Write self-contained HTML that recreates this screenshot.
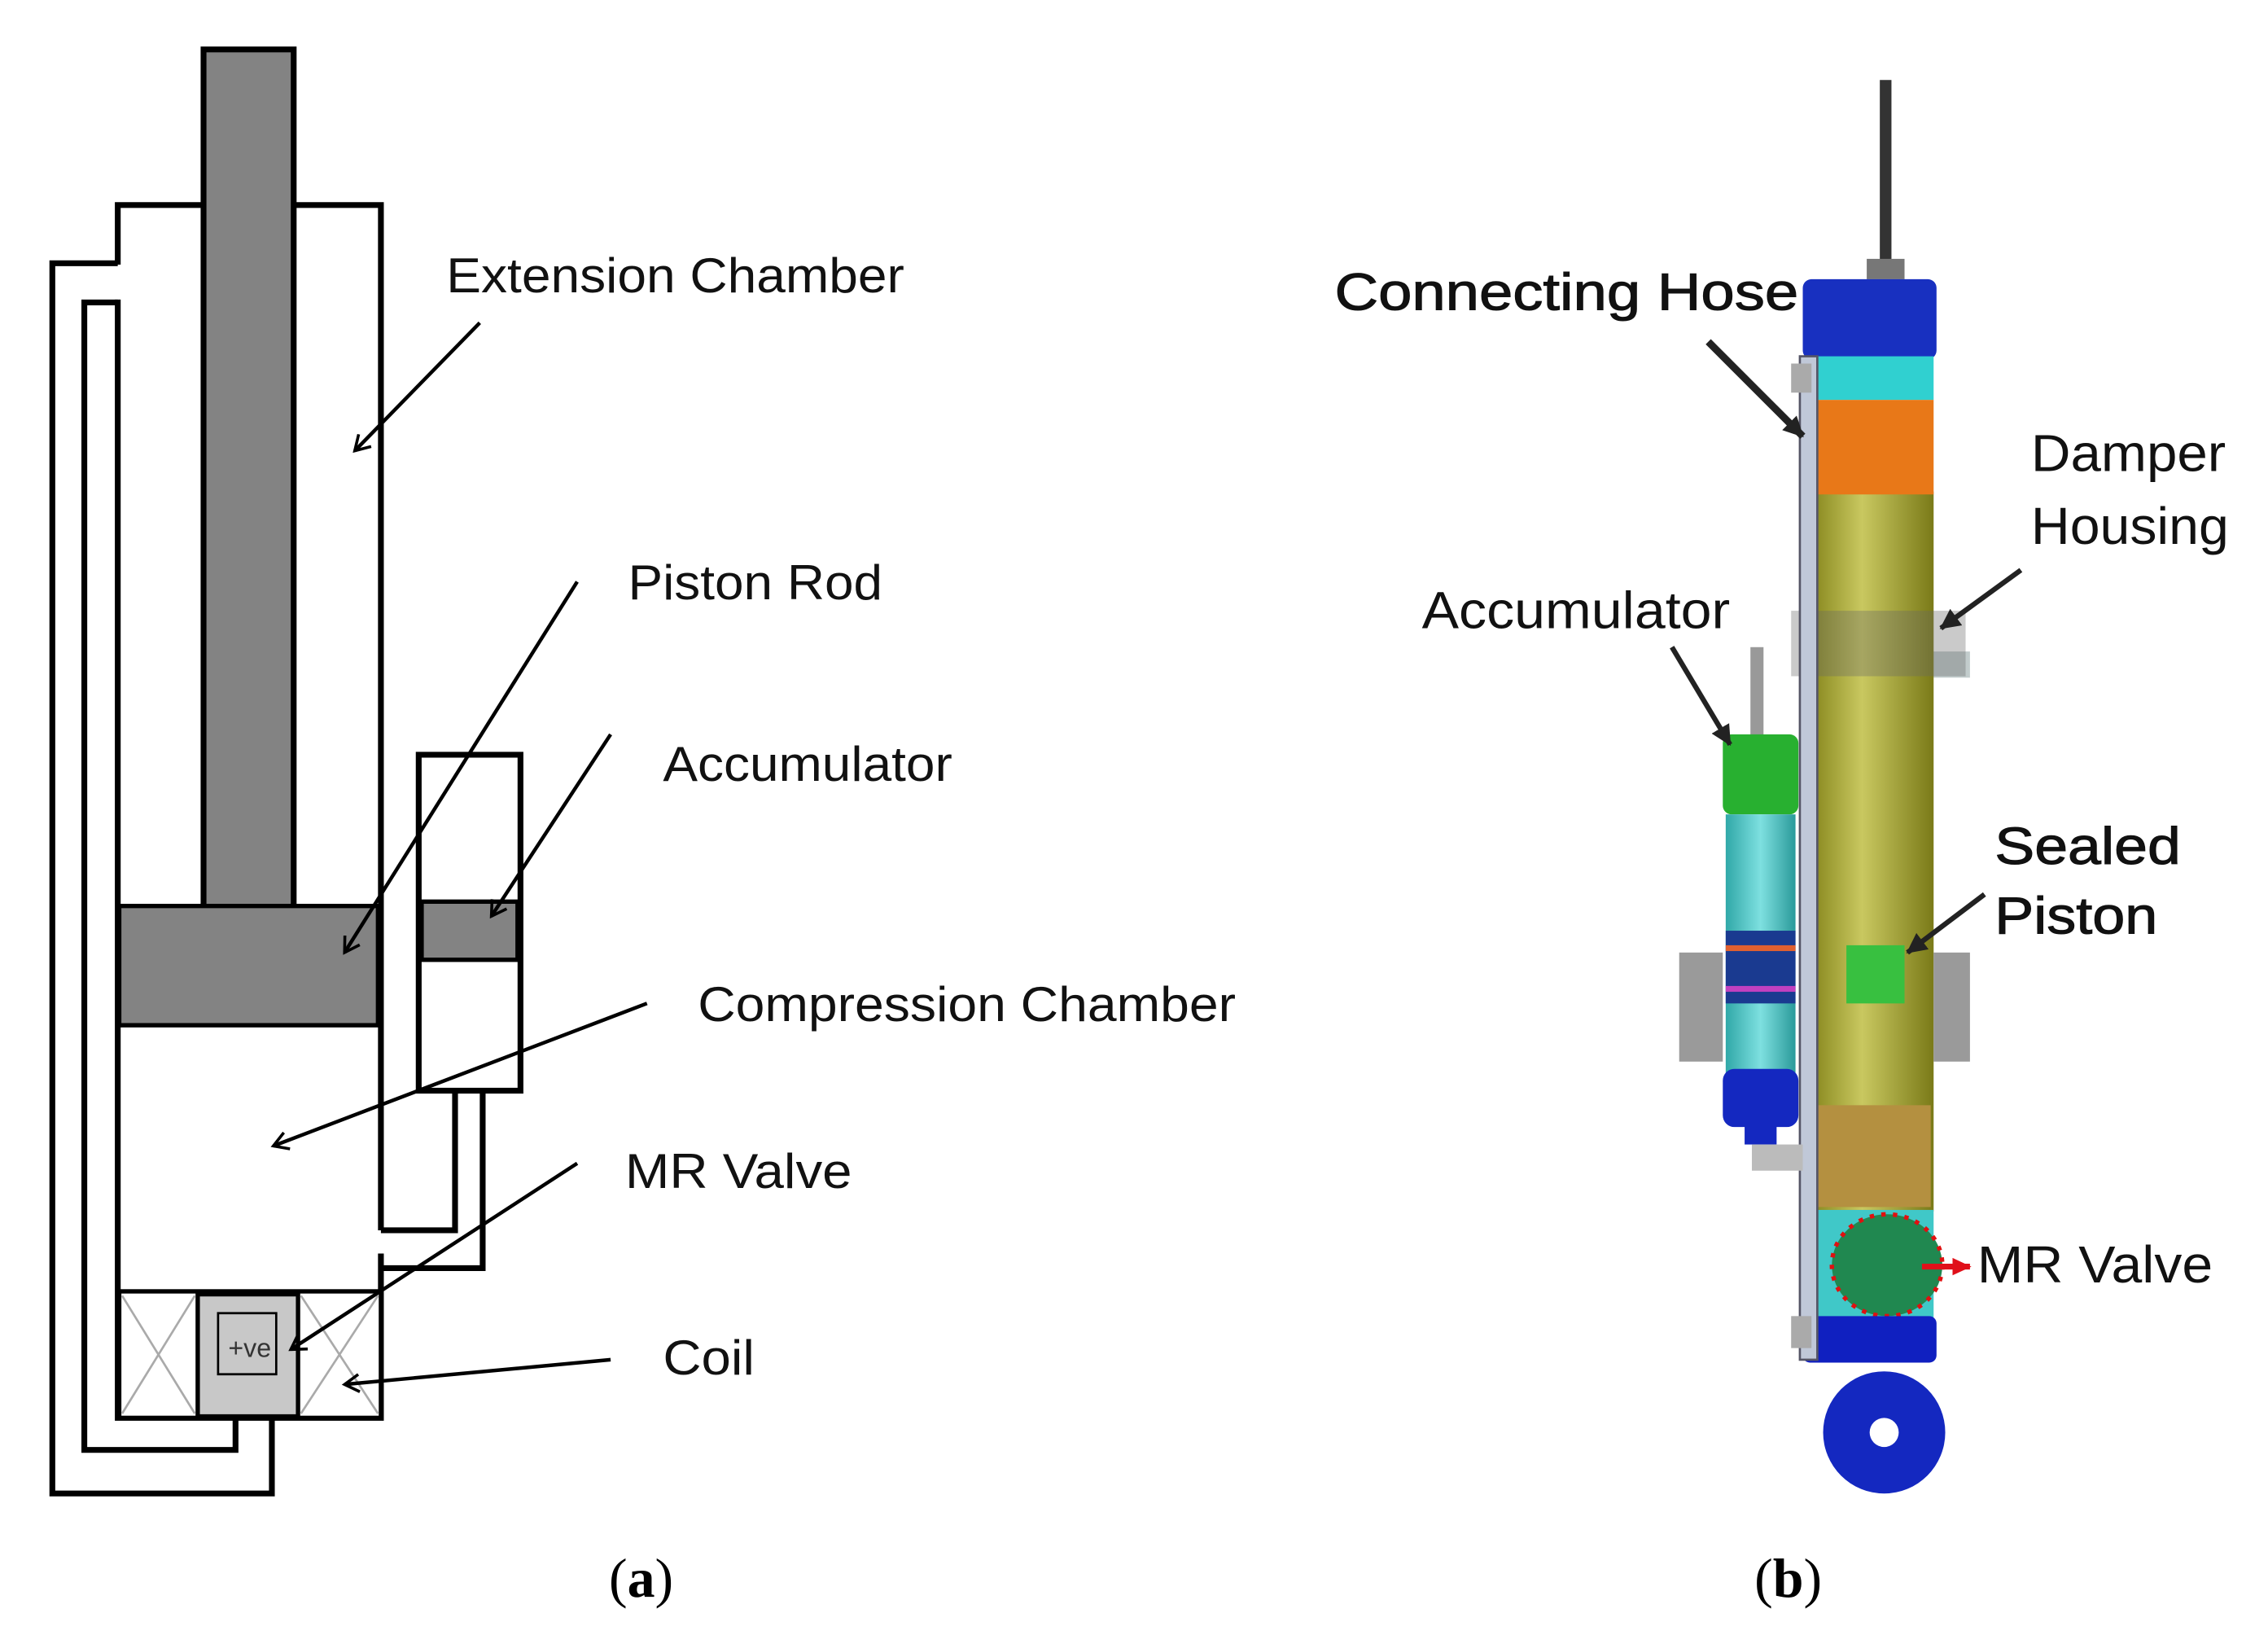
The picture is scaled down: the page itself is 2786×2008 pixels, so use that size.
<!DOCTYPE html>
<html><head><meta charset="utf-8"><style>
html,body{margin:0;padding:0;background:#fff;}
svg{display:block;}
text{font-family:"Liberation Sans",sans-serif;}
</style></head><body>
<svg width="2786" height="2008" viewBox="0 0 1560 1124.3" preserveAspectRatio="none" xmlns="http://www.w3.org/2000/svg">
<defs>
<marker id="ah" markerWidth="14" markerHeight="14" refX="11" refY="7" orient="auto" markerUnits="userSpaceOnUse">
<path d="M1,1 L11,7 L1,13" fill="none" stroke="#000" stroke-width="2"/>
</marker>
<marker id="ahf" markerWidth="16" markerHeight="16" refX="13" refY="8" orient="auto" markerUnits="userSpaceOnUse">
<path d="M0,1 L14,8 L0,15 z" fill="#222"/>
</marker>
<marker id="ahr" markerWidth="14" markerHeight="14" refX="12" refY="7" orient="auto" markerUnits="userSpaceOnUse">
<path d="M0,1 L13,7 L0,13 z" fill="#e0101a"/>
</marker>
<linearGradient id="tube" x1="0" x2="1">
<stop offset="0" stop-color="#8a8a20"/><stop offset="0.4" stop-color="#c9c860"/><stop offset="1" stop-color="#7a7a18"/>
</linearGradient>
<linearGradient id="acc" x1="0" x2="1">
<stop offset="0" stop-color="#30a8a8"/><stop offset="0.5" stop-color="#7ee0e0"/><stop offset="1" stop-color="#2a9a9a"/>
</linearGradient>
</defs>
<g fill="none" stroke="#000" stroke-width="4">
<rect x="140" y="34" width="62" height="590" fill="#838383"/>
<path d="M140,141 H81 V182 M81,206 V975 H262 V862 M262,846 V141 H202"/>
<rect x="82" y="623" width="178" height="82" fill="#838383" stroke-width="3"/>
<rect x="82" y="888" width="180" height="87" fill="#fff" stroke-width="3"/>
<rect x="136" y="890" width="69" height="84" fill="#c8c8c8" stroke-width="3"/>
<path d="M81,181 H36 V1027 H187 V975"/>
<path d="M81,208 H58 V997 H162 V975"/>
<rect x="288" y="519" width="70" height="231" fill="#fff"/>
<rect x="290" y="620" width="66" height="40" fill="#838383" stroke-width="3"/>
<path d="M313,750 V846 H262"/>
<path d="M332,750 V872 H262"/>
</g>
<g stroke="#aaa" stroke-width="1.5">
<line x1="84" y1="891" x2="134" y2="972"/><line x1="134" y1="891" x2="84" y2="972"/>
<line x1="207" y1="891" x2="260" y2="972"/><line x1="260" y1="891" x2="207" y2="972"/>
</g>
<g stroke="#000" stroke-width="1.5" fill="none">
<path d="M150,903 H190 V945 H150 Z"/>
</g>
<text x="157" y="933" font-size="18" fill="#333">+ve</text>
<g font-size="34" fill="#111">
<text x="307" y="201" textLength="315" lengthAdjust="spacingAndGlyphs">Extension Chamber</text>
<text x="432" y="412" textLength="175" lengthAdjust="spacingAndGlyphs">Piston Rod</text>
<text x="456" y="537" textLength="199" lengthAdjust="spacingAndGlyphs">Accumulator</text>
<text x="480" y="702" textLength="370" lengthAdjust="spacingAndGlyphs">Compression Chamber</text>
<text x="430" y="817" textLength="156" lengthAdjust="spacingAndGlyphs">MR Valve</text>
<text x="456" y="945" textLength="63" lengthAdjust="spacingAndGlyphs">Coil</text>
</g>
<g stroke="#000" stroke-width="2.5" marker-end="url(#ah)">
<line x1="330" y1="222" x2="244" y2="310"/>
<line x1="397" y1="400" x2="237" y2="655"/>
<line x1="420" y1="505" x2="338" y2="630"/>
<line x1="445" y1="690" x2="188" y2="788"/>
<line x1="397" y1="800" x2="200" y2="928"/>
<line x1="420" y1="935" x2="237" y2="952"/>
</g>
<text x="441" y="1098" font-size="38" style="font-family:'Liberation Serif',serif" text-anchor="middle">(<tspan font-weight="bold">a</tspan>)</text>

<rect x="1293" y="55" width="8" height="135" fill="#333"/>
<rect x="1284" y="178" width="26" height="14" fill="#777"/>
<rect x="1240" y="448" width="115" height="18" fill="#9aa" opacity="0.6"/>
<rect x="1248" y="338" width="82" height="495" fill="url(#tube)"/>
<rect x="1250" y="760" width="78" height="70" fill="#b49040"/>
<rect x="1270" y="650" width="40" height="40" fill="#38c040"/>
<rect x="1232" y="420" width="120" height="45" fill="#666" opacity="0.35"/>
<rect x="1240" y="192" width="92" height="55" rx="6" fill="#1830c0"/>
<rect x="1242" y="245" width="88" height="30" fill="#30d0d0"/>
<rect x="1242" y="275" width="88" height="65" fill="#e87818"/>
<rect x="1244" y="832" width="86" height="75" fill="#40c8c8"/>
<ellipse cx="1298" cy="870" rx="38" ry="35" fill="#208850"/>
<ellipse cx="1298" cy="870" rx="38" ry="35" fill="none" stroke="#e01010" stroke-width="3" stroke-dasharray="3 5"/>
<rect x="1240" y="905" width="92" height="32" rx="5" fill="#1020c0"/>
<circle cx="1296" cy="985" r="42" fill="#1428c0"/>
<circle cx="1296" cy="985" r="10" fill="#fff"/>
<rect x="1238" y="245" width="12" height="690" fill="#c0c8d8" stroke="#556" stroke-width="1.5"/>
<rect x="1232" y="905" width="14" height="22" fill="#aaa"/>
<rect x="1232" y="250" width="14" height="20" fill="#aaa"/>
<rect x="1155" y="655" width="30" height="75" fill="#9a9a9a"/>
<rect x="1330" y="655" width="25" height="75" fill="#9a9a9a"/>
<rect x="1204" y="445" width="9" height="62" fill="#999"/>
<rect x="1185" y="505" width="52" height="55" rx="6" fill="#28b030"/>
<rect x="1187" y="560" width="48" height="178" fill="url(#acc)"/>
<rect x="1187" y="640" width="48" height="50" fill="#1a3a90"/>
<rect x="1187" y="650" width="48" height="4" fill="#e06030"/>
<rect x="1187" y="678" width="48" height="4" fill="#c040c0"/>
<rect x="1185" y="735" width="52" height="40" rx="8" fill="#1428c0"/>
<rect x="1200" y="772" width="22" height="15" fill="#1428c0"/>
<rect x="1205" y="787" width="35" height="18" fill="#bbb"/>
<g font-size="36" fill="#111">
<text x="918" y="213" stroke="#111" stroke-width="0.6" textLength="319" lengthAdjust="spacingAndGlyphs">Connecting Hose</text>
<text x="1397" y="324" textLength="134" lengthAdjust="spacingAndGlyphs">Damper</text>
<text x="1397" y="374" textLength="136" lengthAdjust="spacingAndGlyphs">Housing</text>
<text x="978" y="432" textLength="212" lengthAdjust="spacingAndGlyphs">Accumulator</text>
<text x="1372" y="594" stroke="#111" stroke-width="0.6" textLength="128" lengthAdjust="spacingAndGlyphs">Sealed</text>
<text x="1372" y="642" stroke="#111" stroke-width="0.6" textLength="112" lengthAdjust="spacingAndGlyphs">Piston</text>
<text x="1360" y="882" textLength="162" lengthAdjust="spacingAndGlyphs">MR Valve</text>
</g>
<g stroke="#222" marker-end="url(#ahf)">
<line x1="1175" y1="235" x2="1240" y2="300" stroke-width="5"/>
<line x1="1390" y1="392" x2="1335" y2="432" stroke-width="3.5"/>
<line x1="1150" y1="445" x2="1190" y2="512" stroke-width="3.5"/>
<line x1="1365" y1="615" x2="1312" y2="655" stroke-width="3.5"/>
</g>
<line x1="1322" y1="871" x2="1355" y2="871" stroke="#e0101a" stroke-width="4" marker-end="url(#ahr)"/>
<text x="1230" y="1098" font-size="38" style="font-family:'Liberation Serif',serif" text-anchor="middle">(<tspan font-weight="bold">b</tspan>)</text>
</svg>
</body></html>
